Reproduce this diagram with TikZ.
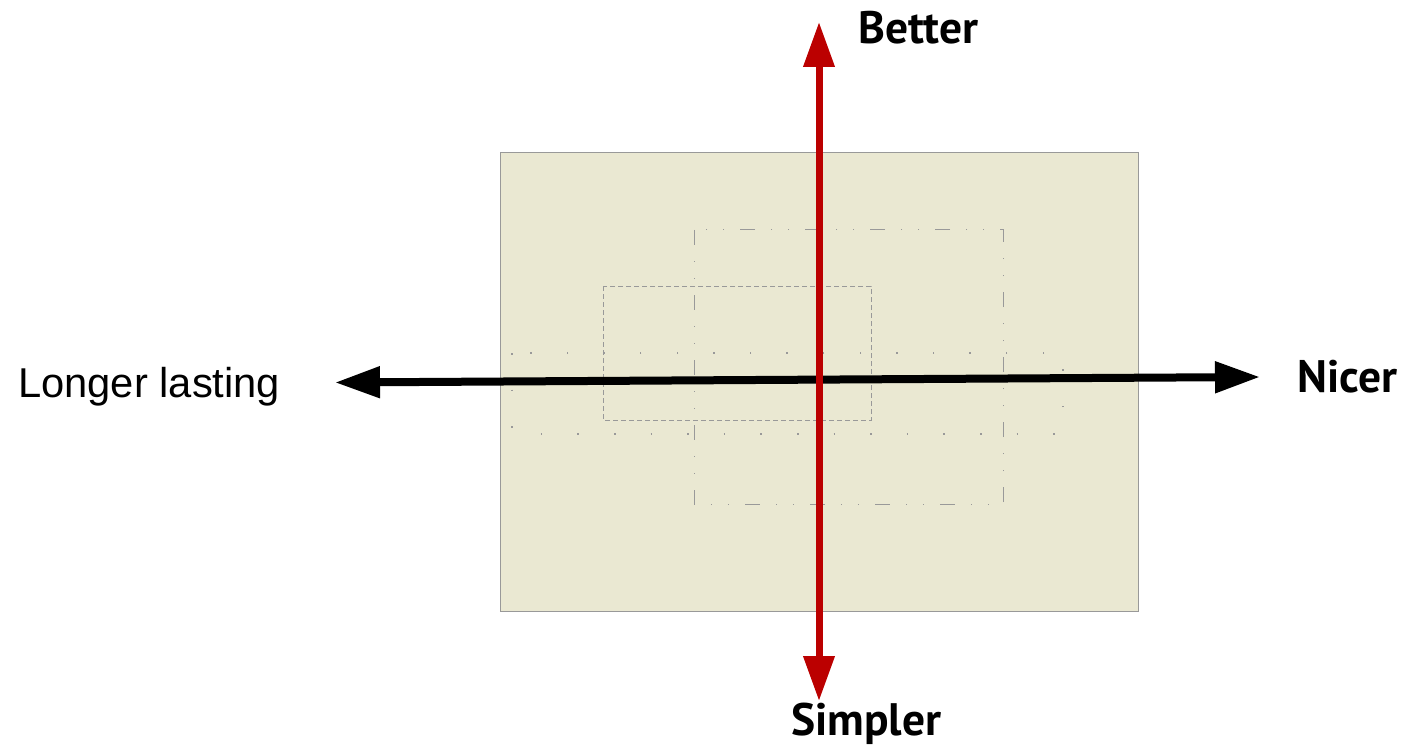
\documentclass[tikz,border=0pt]{standalone}
\usepackage{fontspec}
\setmainfont{Liberation Sans}
\newfontfamily\axisfont{PT Sans}
\usepackage{tikz}
\usetikzlibrary{arrows.meta, positioning}
\definecolor{boxfill}{RGB}{234,232,210}
\definecolor{betterred}{RGB}{187,0,0}
\tikzset{
  field/.style     = {draw=black!40, line width=1pt, fill=boxfill},
  zone/.style      = {draw=black!40, line width=1pt},
  dashzone/.style  = {zone, dash pattern=on 5pt off 3pt},
  dotzone/.style   = {zone, line width=1.5pt, dash pattern=on 1.5pt off 35.1pt},
  dashdotzone/.style = {zone, dash pattern=on 15pt off 16pt on 1pt off 16pt on 1pt off 16pt},
  axis/.style      = {line width=8pt, {Triangle[length=45pt,width=30pt]}-{Triangle[length=45pt,width=30pt]}},
  bold/.style      = {inner sep=0pt, anchor=base west,
                      font=\axisfont\bfseries\fontsize{45.5}{52}\selectfont},
  plain/.style     = {inner sep=0pt, anchor=base west,
                      font=\fontsize{41.7}{48}\selectfont},
}

\begin{document}
\begin{tikzpicture}[x=1pt, y=-1pt]
  \useasboundingbox (0,0) rectangle (1403,746);

  \fill[field] (500,153) rectangle (1138,611);

  % overlapping zones
  \draw[dotzone]     (512,353) rectangle (1063,434);
  \draw[dashzone]    (603,286) rectangle (871,420);
  \draw[dashdotzone] (694,230) rectangle (1003,504);

  \coordinate (left)  at (335,382.5);
  \coordinate (right) at (1260,377);
  \coordinate (top)   at (819,22);
  \coordinate (bot)   at (819,701);

  \draw[axis, black]     (left) -- (right);
  \draw[axis, line width=7pt, betterred] (bot) -- (top);

  \node[bold]  (better)  at (858,44)  {Better};
  \node[bold]  (simpler) at (791,735) {Simpler};
  \node[bold]  (nicer)   at (1297,392) {Nicer};
  \node[plain] (longer)  at (18,397)  {Longer lasting};
\end{tikzpicture}
\end{document}
